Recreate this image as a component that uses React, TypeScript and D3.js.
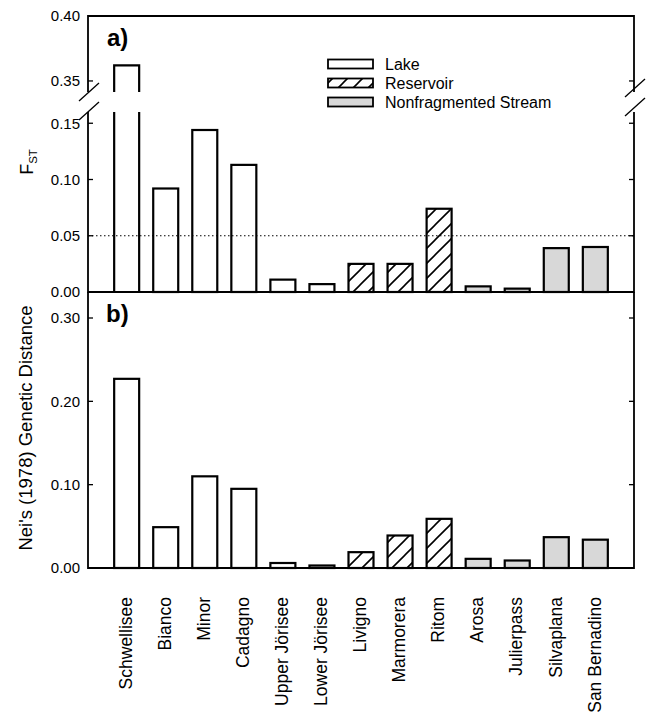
import * as d3 from 'd3';
import React from 'react';

// data
const sites = ['Schwellisee', 'Bianco', 'Minor', 'Cadagno', 'Upper Jörisee', 'Lower Jörisee', 'Livigno', 'Marmorera', 'Ritom', 'Arosa', 'Julierpass', 'Silvaplana', 'San Bernadino'];
const habitat = ['Lake', 'Lake', 'Lake', 'Lake', 'Lake', 'Lake', 'Reservoir', 'Reservoir', 'Reservoir', 'Stream', 'Stream', 'Stream', 'Stream'];
const fst = [0.362, 0.092, 0.144, 0.113, 0.011, 0.007, 0.025, 0.025, 0.074, 0.005, 0.003, 0.039, 0.040];
const neiDist = [0.227, 0.049, 0.110, 0.095, 0.006, 0.003, 0.019, 0.039, 0.059, 0.011, 0.009, 0.037, 0.034];
const legendKeys = ['Lake', 'Reservoir', 'Stream'];
const legendLabels = ['Lake', 'Reservoir', 'Nonfragmented Stream'];
const fstTicksLow = [0, 0.05, 0.1, 0.15];
const fstTicksHigh = [0.35, 0.4];
const neiTicks = [0, 0.1, 0.2, 0.3];
const fstLine = 0.05;

const W = 650;
const H = 725;
const left = 88;
const right = 634;
const font = '"Liberation Sans", Arial, Helvetica, sans-serif';

const fillFor = (h: string) => (h === 'Lake' ? '#fff' : h === 'Reservoir' ? 'url(#hatch)' : '#d8d8d8');

export default function App() {
  const x = d3.scaleBand<string>().domain(sites).range([left, right]).paddingInner(0.36).paddingOuter(0.67);

  // panel a, broken axis
  const yLow = d3.scaleLinear().domain([0, 0.16]).range([292, 112]);
  const yHigh = d3.scaleLinear().domain([0.3415, 0.4]).range([92, 16]);
  // panel b
  const yB = d3.scaleLinear().domain([0, 0.3]).range([568, 318]);

  const fmt = d3.format('.2f');
  const lowTop = yLow.range()[1];
  const highBottom = yHigh.range()[0];
  const lowMax = yLow.domain()[1];

  const tick = (y: number, key: string) => (
    <g key={key}>
      <line x1={left} x2={left + 5} y1={y} y2={y} stroke="#000" strokeWidth={1.3} />
      <line x1={right} x2={right - 5} y1={y} y2={y} stroke="#000" strokeWidth={1.3} />
      <text x={80} y={y} dy="0.35em" textAnchor="end" fontSize={15}>{key.split('-')[1]}</text>
    </g>
  );

  const slash = (cx: number, cy: number, k: string) => (
    <line key={k} x1={cx - 10} y1={cy + 9} x2={cx + 10} y2={cy - 9} stroke="#000" strokeWidth={1.3} />
  );

  return (
    <svg width={W} height={H} style={{ position: 'absolute', left: 0, top: 0, background: '#fff' }} fontFamily={font}>
      <defs>
        <pattern id="hatch" patternUnits="userSpaceOnUse" width={15} height={15}>
          <rect width={15} height={15} fill="#fff" />
          <path d="M-2,2 l4,-4 M0,15 l15,-15 M13,17 l4,-4" stroke="#000" strokeWidth={1.6} />
        </pattern>
      </defs>

      {/* panel a bars */}
      <g stroke="#000" strokeWidth={2.2}>
        {sites.map((s, i) => {
          const bx = x(s)!;
          const bw = x.bandwidth();
          const v = fst[i];
          if (v <= lowMax) {
            return <rect key={s} x={bx} y={yLow(v)} width={bw} height={yLow(0) - yLow(v)} fill={fillFor(habitat[i])} />;
          }
          const top = yHigh(v);
          return (
            <g key={s}>
              <rect x={bx} y={lowTop} width={bw} height={yLow(0) - lowTop} fill={fillFor(habitat[i])} stroke="none" />
              <rect x={bx} y={top} width={bw} height={highBottom - top} fill={fillFor(habitat[i])} stroke="none" />
              <path d={`M${bx},${yLow(0)}V${lowTop}M${bx + bw},${yLow(0)}V${lowTop}`} fill="none" />
              <path d={`M${bx},${highBottom}V${top}H${bx + bw}V${highBottom}`} fill="none" />
            </g>
          );
        })}
      </g>

      {/* dotted reference line */}
      <line x1={left} x2={right} y1={yLow(fstLine)} y2={yLow(fstLine)} stroke="#000" strokeWidth={1} strokeDasharray="1.5,2.5" />

      {/* panel a frame */}
      <g stroke="#000" strokeWidth={1.8} fill="none">
        <path d={`M${left},${highBottom}V16H${right}V${highBottom}`} />
        <path d={`M${left},${lowTop}V292H${right}V${lowTop}`} />
      </g>
      {slash(left + 1, highBottom, 'sl1')}
      {slash(left + 1, lowTop - 1, 'sl2')}
      {slash(right + 1, highBottom - 4, 'sr1')}
      {slash(right + 1, lowTop - 5, 'sr2')}
      {fstTicksLow.map((t) => tick(yLow(t), `a-${fmt(t)}`))}
      {fstTicksHigh.map((t) => tick(yHigh(t), `ah-${fmt(t)}`))}

      <text x={107} y={46} fontSize={24} fontWeight="bold">a)</text>

      {/* legend */}
      {legendKeys.map((k, i) => (
        <g key={k} transform={`translate(328,${64 + i * 19})`}>
          <rect x={0} y={-4.5} width={45} height={9} fill={fillFor(k)} stroke="#000" strokeWidth={1.8} />
          <text x={57} y={0} dy="0.36em" fontSize={16}>{legendLabels[i]}</text>
        </g>
      ))}

      {/* FST label */}
      <text transform="translate(33,162) rotate(-90)" textAnchor="middle" fontSize={18}>
        F<tspan fontSize={11.5} dy={4}>ST</tspan>
      </text>

      {/* panel b bars */}
      <g stroke="#000" strokeWidth={2.2}>
        {sites.map((s, i) => (
          <rect key={s} x={x(s)!} y={yB(neiDist[i])} width={x.bandwidth()} height={yB(0) - yB(neiDist[i])} fill={fillFor(habitat[i])} />
        ))}
      </g>

      {/* panel b frame */}
      <path d={`M${left},292V568H${right}V292`} stroke="#000" strokeWidth={1.8} fill="none" />
      {neiTicks.map((t) => tick(yB(t), `b-${fmt(t)}`))}
      <text x={106} y={322} fontSize={24} fontWeight="bold">b)</text>

      <text transform="translate(32,428) rotate(-90)" textAnchor="middle" fontSize={18.5}>
        Nei's (1978) Genetic Distance
      </text>

      {/* category labels */}
      {sites.map((s) => (
        <text key={s} transform={`translate(${x(s)! + x.bandwidth() / 2},597) rotate(-90)`} textAnchor="end" dy="0.3em" fontSize={17.5}>
          {s}
        </text>
      ))}
    </svg>
  );
}
